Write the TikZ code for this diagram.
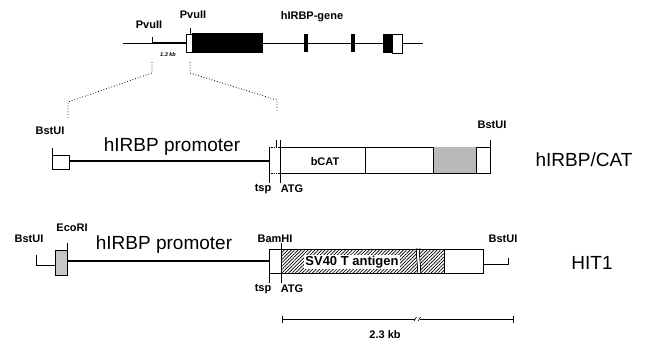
\documentclass[tikz,border=0pt]{standalone}
\usepackage{fontspec}
\setmainfont{Liberation Sans}
\usetikzlibrary{patterns,patterns.meta}
\begin{document}
\begin{tikzpicture}[x=1pt,y=-1pt,
  lbl/.style={font=\bfseries\fontsize{11}{12}\selectfont, inner sep=0pt},
  big/.style={font=\fontsize{19}{20}\selectfont, inner sep=0pt},
  thinln/.style={line width=0.8pt},
  thickln/.style={line width=2.8pt},
  boxln/.style={line width=0.7pt},
  dotln/.style={line width=0.8pt, dotted},
  hatch/.style={pattern={Lines[angle=45,distance=2.4pt,line width=0.7pt]}}]
\useasboundingbox (0,0) rectangle (647,341);

% ---------- top: gene ----------
\draw[thinln] (123,43) -- (423,43);
\draw[thickln] (152,43) -- (186,43);
\draw[thinln] (152,37) -- (152,43);
\draw[boxln, fill=white] (186,34) rectangle (192,52);
\draw[thinln] (190,28) -- (190,34);
\fill[black] (192,33) rectangle (263,53);
\fill[black] (304,34) rectangle (308,52);
\fill[black] (351,34) rectangle (355,52);
\fill[black] (383,34) rectangle (392,53);
\draw[boxln, fill=white] (392,34) rectangle (402,53);
\node[lbl] (pvu1) at (149,25) {PvuII};
\node[lbl] (pvu2) at (193,15) {PvuII};
\node[lbl] (gene) at (312,17) {hIRBP-gene};
\node[inner sep=0pt, font=\bfseries\itshape\fontsize{5.5}{6}\selectfont] (kb13) at (168,55) {1.3 kb};

% ---------- zoom-in dotted lines ----------
\draw[dotln] (152,62) -- (152,73) -- (68,102) -- (68,118);
\draw[dotln] (190,62) -- (190,73) -- (277,100) -- (277,112);

% ---------- row 2: hIRBP/CAT ----------
\draw[thinln] (52,148) -- (52,155);
\draw[boxln, fill=white] (52,155) rectangle (69,169);
\draw[thickln] (69,161) -- (269,161);
\draw[boxln] (269,147) -- (269,173);
\draw[boxln, densely dotted] (269,147) -- (280,147);
\draw[boxln, densely dotted] (269,173) -- (280,173);
\draw[boxln] (280,147) rectangle (490,173);
\fill[gray!55] (433,147) rectangle (476,173);
\draw[boxln] (365,147) -- (365,173);
\draw[boxln] (433,147) -- (433,173);
\draw[boxln] (476,147) -- (476,173);
\draw[boxln] (280,140) -- (280,183);
\draw[boxln] (269,173) -- (269,183);
\draw[boxln] (276,140) -- (276,147);
\draw[boxln] (490,140) -- (490,147);
\node[lbl] (bst2a) at (50,131) {BstUI};
\node[big, anchor=base] (prom2) at (172,151) {hIRBP promoter};
\node[lbl] (bcat) at (325,162) {bCAT};
\node[lbl] (tsp2) at (263,189) {tsp};
\node[lbl] (atg2) at (292,189) {ATG};
\node[lbl] (bst2b) at (492,125) {BstUI};
\node[big] (cat) at (584,160) {hIRBP/CAT};

% ---------- row 3: HIT1 ----------
\draw[thinln] (36,255) -- (36,265) -- (55,265);
\draw[boxln, fill=gray!45] (55,250) rectangle (67,275);
\draw[thinln] (67,243) -- (67,250);
\draw[thickln] (67,261) -- (269,261);
\draw[boxln, fill=white] (269,249) rectangle (483,273);
\fill[hatch] (281,249) rectangle (417,273);
\fill[hatch] (420,249) rectangle (444,273);
\fill[white] (417,248) rectangle (420,274);
\draw[boxln] (417,248) .. controls (415,256) and (419,266) .. (417,274);
\draw[boxln] (420,248) .. controls (418,256) and (422,266) .. (420,274);
\draw[boxln] (269,249) -- (483,249);
\draw[boxln] (269,273) -- (483,273);
\draw[boxln] (444,249) -- (444,273);
\draw[boxln] (281,243) -- (281,283);
\draw[boxln] (269,273) -- (269,283);
\draw[thinln] (483,264) -- (508,264) -- (508,258);
\node[lbl] (bst3a) at (29,239) {BstUI};
\node[lbl] (eco) at (72,228) {EcoRI};
\node[big, anchor=base] (prom3) at (164,249) {hIRBP promoter};
\node[lbl] (bam) at (275,239) {BamHI};
\node[lbl] (bst3b) at (503,239) {BstUI};
\node[font=\bfseries\fontsize{13}{14}\selectfont, fill=white, inner sep=1pt] (sv40) at (352,262) {SV40 T antigen};
\node[lbl] (tsp3) at (263,289) {tsp};
\node[lbl] (atg3) at (292,289) {ATG};
\node[big] (hit) at (592,263) {HIT1};

% ---------- scale bar ----------
\coordinate (sbl) at (282,319);
\coordinate (sbr) at (513,319);
\draw[thinln] (sbl) -- (sbr);
\draw[thinln] (282,315.5) -- (282,322.5);
\draw[thinln] (513,315.5) -- (513,322.5);
\fill[white] (415,316) rectangle (420,322);
\draw[line width=0.6pt] (414,321) -- (416.5,317);
\draw[line width=0.6pt] (418,321) -- (420.5,317);
\node[lbl] (kb23) at (385,335) {2.3 kb};
\end{tikzpicture}
\end{document}
